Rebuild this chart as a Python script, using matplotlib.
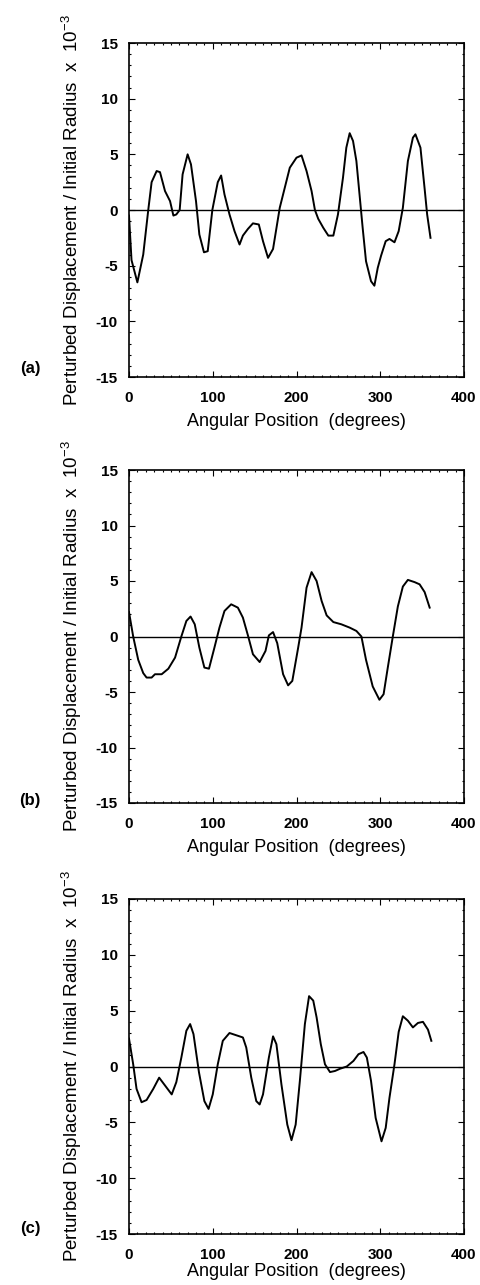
import matplotlib
matplotlib.use('Agg')
import matplotlib.pyplot as plt
from matplotlib.ticker import MultipleLocator

plt.rcParams['font.family'] = ['Liberation Sans', 'DejaVu Sans']
plt.rcParams['mathtext.fontset'] = 'custom'
plt.rcParams['mathtext.rm'] = 'Liberation Sans'
plt.rcParams['mathtext.it'] = 'Liberation Sans'
plt.rcParams['axes.unicode_minus'] = False

# panel (a)
angle_a = [0, 3, 10, 17, 23, 27, 33, 37, 43, 49, 53, 56.5, 60.5, 64, 70, 74, 80, 84,
           89.5, 94, 99.5, 106, 110, 114, 120, 126, 132, 136, 142, 148, 155, 160, 166,
           172, 180, 186, 192, 200, 206, 212, 218, 222, 226, 232, 238, 244, 249.5,
           255.5, 259.5, 263.5, 267.5, 271.5, 276, 279, 283, 289, 293, 297, 301,
           306.5, 311, 317, 322, 327, 333, 339, 342, 348, 353, 356, 360]
disp_a = [-0.5, -4.5, -6.5, -4.0, 0.0, 2.5, 3.5, 3.4, 1.7, 0.8, -0.5, -0.4, 0.0, 3.2,
          5.0, 4.1, 0.8, -2.2, -3.8, -3.7, 0.0, 2.5, 3.1, 1.4, -0.4, -1.9, -3.1, -2.3,
          -1.7, -1.2, -1.3, -2.8, -4.3, -3.5, 0.2, 2.0, 3.8, 4.7, 4.9, 3.5, 1.7, 0.0,
          -0.8, -1.6, -2.3, -2.3, -0.4, 2.9, 5.6, 6.9, 6.2, 4.4, 0.8, -1.6, -4.6, -6.4,
          -6.8, -5.2, -4.1, -2.8, -2.6, -2.9, -1.9, 0.2, 4.4, 6.5, 6.8, 5.6, 1.9, -0.4,
          -2.5]

# panel (b)
angle_b = [0, 5, 11, 17, 21, 27, 31, 39, 47, 55, 62.5, 68.5, 73.5, 78.5, 84, 90, 95.5,
           102, 108, 114, 122, 130, 136, 142, 148, 156, 163, 167, 172, 177, 184, 190,
           195, 202, 206, 212, 218, 224, 230, 236, 244, 253.5, 263.5, 271.5, 277.5,
           283, 291, 299, 304, 309, 315, 321, 327, 333, 341, 347, 353, 359]
disp_b = [2.2, 0.0, -2.1, -3.3, -3.7, -3.7, -3.4, -3.4, -2.9, -1.9, 0.0, 1.4, 1.8, 1.1,
          -1.0, -2.8, -2.9, -1.0, 0.8, 2.3, 2.9, 2.6, 1.7, 0.1, -1.6, -2.3, -1.3, 0.1,
          0.4, -0.6, -3.4, -4.4, -4.0, -1.0, 0.8, 4.4, 5.8, 5.0, 3.2, 1.9, 1.3, 1.1,
          0.8, 0.5, 0.0, -2.1, -4.5, -5.7, -5.2, -2.8, 0.0, 2.7, 4.5, 5.1, 4.9, 4.7,
          4.0, 2.6]

# panel (c)
angle_c = [0, 5, 9, 15, 21, 29, 36, 43, 51, 56.5, 62.5, 68.5, 73, 77, 83.5, 90, 95,
           100, 106, 112, 120, 128, 136, 140, 146, 152, 156, 160, 167, 172, 176, 182,
           189, 194, 199, 204, 210, 215, 220, 224, 229, 234, 240, 246, 252, 260, 268,
           274, 280, 284, 289, 294.5, 301.5, 306.5, 311, 317, 322, 327, 333, 339, 345,
           351, 357, 361]
disp_c = [2.5, 0.2, -2.0, -3.2, -3.0, -2.0, -1.0, -1.7, -2.5, -1.4, 0.8, 3.2, 3.8, 2.9,
          -0.5, -3.1, -3.8, -2.5, 0.2, 2.3, 3.0, 2.8, 2.6, 1.7, -1.0, -3.1, -3.4, -2.5,
          0.8, 2.7, 2.0, -1.6, -5.2, -6.6, -5.2, -1.3, 3.8, 6.3, 5.9, 4.4, 2.0, 0.2,
          -0.5, -0.4, -0.2, 0.0, 0.5, 1.1, 1.3, 0.8, -1.3, -4.6, -6.7, -5.5, -2.8, 0.2,
          3.1, 4.5, 4.1, 3.5, 3.9, 4.0, 3.3, 2.3]

panels = [('(a)', angle_a, disp_a), ('(b)', angle_b, disp_b), ('(c)', angle_c, disp_c)]

W, H = 480, 1285
# pixel boxes of the axes: top, bottom, xlabel y
boxes = [(43, 377, 422), (470, 803, 847), (899, 1234, 1271)]
panel_label_y = [368, 801, 1228]
left, right = 129, 464

fig = plt.figure(figsize=(W / 100, H / 100), dpi=100)

for (name, ang, disp), (top, bot, xly), ply in zip(panels, boxes, panel_label_y):
    ax = fig.add_axes([left / W, 1 - bot / H, (right - left) / W, (bot - top) / H])
    ax.plot(ang, disp, color='black', lw=1.4)
    ax.axhline(0, color='black', lw=1.0)
    ax.set_xlim(0, 400)
    ax.set_ylim(-15, 15)
    ax.xaxis.set_major_locator(MultipleLocator(100))
    ax.yaxis.set_major_locator(MultipleLocator(5))
    ax.xaxis.set_minor_locator(MultipleLocator(10))
    ax.yaxis.set_minor_locator(MultipleLocator(1))
    ax.tick_params(which='both', direction='in', top=True, right=True, width=0.8)
    ax.tick_params(which='major', length=4, labelsize=11)
    ax.tick_params(axis='x', which='major', pad=10)
    ax.tick_params(axis='y', which='major', pad=8)
    ax.tick_params(which='minor', length=1.5)
    for lab in ax.get_xticklabels() + ax.get_yticklabels():
        lab.set_fontweight('bold')
    for sp in ax.spines.values():
        sp.set_linewidth(1.2)
    fig.text((left + right) / 2 / W, 1 - xly / H, 'Angular Position  (degrees)',
             ha='center', va='center', fontsize=13)
    fig.text(72 / W, 1 - (top + bot) / 2 / H,
             'Perturbed Displacement / Initial Radius  x  10$^{-3}$',
             ha='center', va='center', rotation=90, fontsize=13.5)
    fig.text(30 / W, 1 - ply / H, name, ha='center', va='center',
             fontsize=12, fontweight='bold')

fig.savefig('out.png', dpi=100)
